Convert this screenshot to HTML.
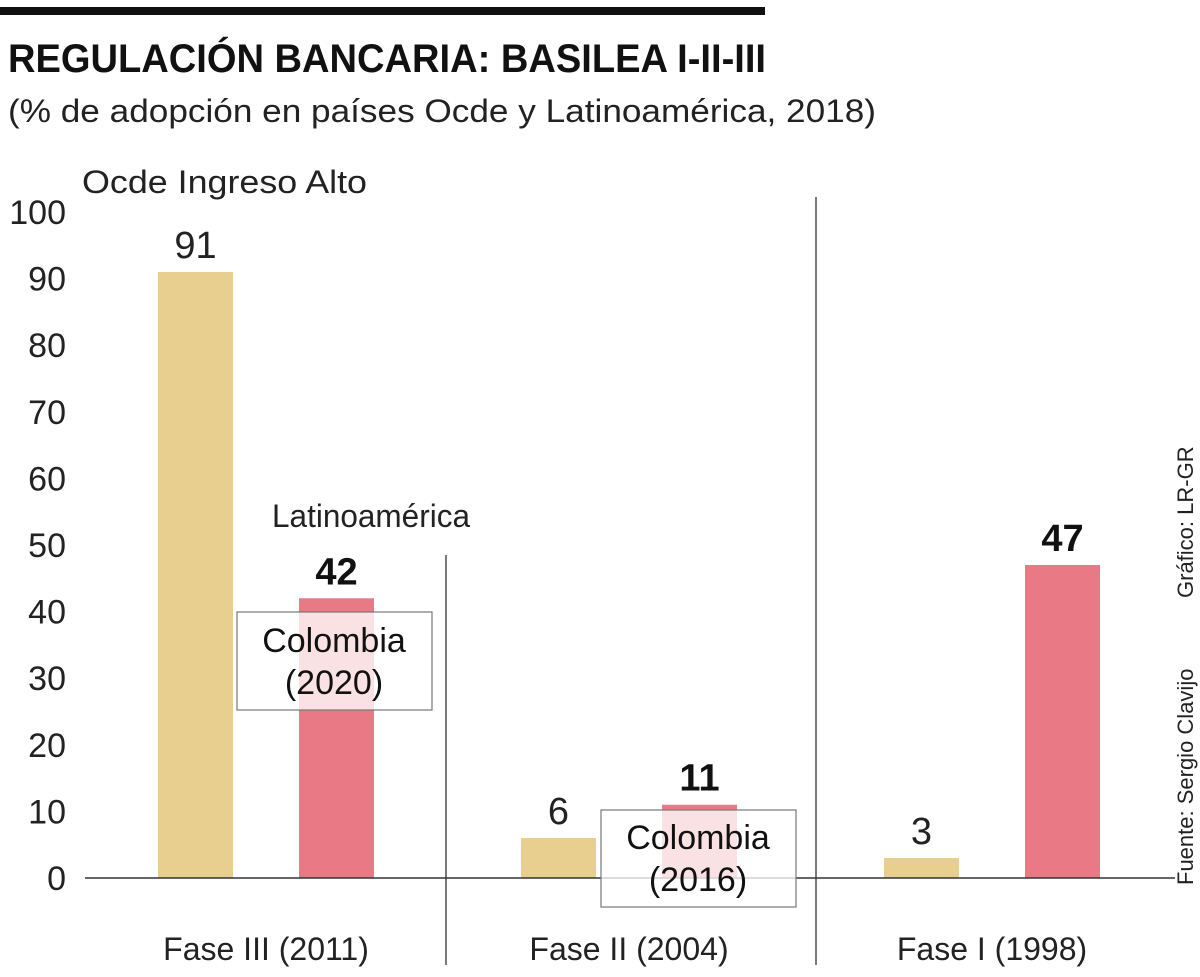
<!DOCTYPE html>
<html><head><meta charset="utf-8"><style>
body{margin:0;width:1200px;height:972px;background:#fff;overflow:hidden;font-family:"Liberation Sans",sans-serif;}
svg text{font-family:"Liberation Sans",sans-serif;}
</style></head><body>
<svg id="chart" width="1200" height="972">
<rect x="0" y="7" width="765" height="8" fill="#111"/>
<text x="8" y="72" font-size="40" font-weight="bold" fill="#111" textLength="758" lengthAdjust="spacingAndGlyphs">REGULACIÓN BANCARIA: BASILEA I-II-III</text>
<text x="8" y="122" font-size="32" fill="#222" textLength="868" lengthAdjust="spacingAndGlyphs">(% de adopción en países Ocde y Latinoamérica, 2018)</text>
<text x="82" y="193" font-size="32" fill="#222" textLength="285" lengthAdjust="spacingAndGlyphs">Ocde Ingreso Alto</text>
<text x="272" y="527" font-size="32" fill="#222" textLength="198" lengthAdjust="spacingAndGlyphs">Latinoamérica</text>
<g id="axis"></g>
<g id="bars"></g>
<line x1="446" y1="555" x2="446" y2="965" stroke="#333" stroke-width="1.3"/>
<line x1="816" y1="197" x2="816" y2="965" stroke="#333" stroke-width="1.3"/>
<line x1="85" y1="878" x2="1175" y2="878" stroke="#333" stroke-width="1.5"/>
<g>
<rect x="237" y="612" width="195" height="98" fill="#fff" fill-opacity="0.78" stroke="#777" stroke-width="1.2"/>
<text x="334" y="652" font-size="34" text-anchor="middle" fill="#111">Colombia</text>
<text x="334" y="694" font-size="34" text-anchor="middle" fill="#111">(2020)</text>
</g>
<g>
<rect x="601" y="810" width="195" height="97" fill="#fff" fill-opacity="0.78" stroke="#777" stroke-width="1.2"/>
<text x="698" y="849" font-size="34" text-anchor="middle" fill="#111">Colombia</text>
<text x="698" y="891" font-size="34" text-anchor="middle" fill="#111">(2016)</text>
</g>
<text transform="translate(1193,885) rotate(-90)" font-size="22" fill="#222">Fuente: Sergio Clavijo</text>
<text transform="translate(1193,598) rotate(-90)" font-size="22" fill="#222">Gráfico: LR-GR</text>
</svg>
<script>
const categories=["Fase III (2011)","Fase II (2004)","Fase I (1998)"];
const ocdeValues=[91,6,3];
const latamValues=[42,11,47];
const yTicks=[0,10,20,30,40,50,60,70,80,90,100];
const ns="http://www.w3.org/2000/svg";
const y=v=>878-v*6.66;
const groupX=i=>158+i*363;
const barW=75;
function mk(tag,attrs,parent,text){const e=document.createElementNS(ns,tag);for(const k in attrs)e.setAttribute(k,attrs[k]);if(text!==undefined)e.textContent=text;parent.appendChild(e);return e;}
const axis=document.getElementById('axis');
yTicks.forEach(t=>{const e=mk('text',{x:66,y:y(t)+12,'font-size':34,'text-anchor':'end',fill:'#222'},axis,String(t));

});
const bars=document.getElementById('bars');
categories.forEach((c,i)=>{
const x0=groupX(i);
const b1=mk('rect',{x:x0,y:y(ocdeValues[i]),width:barW,height:878-y(ocdeValues[i]),fill:'#e8cf8f'},bars);


const l1=mk('text',{x:x0+barW/2,y:y(ocdeValues[i])-14,'font-size':38,'text-anchor':'middle',fill:'#222'},bars,String(ocdeValues[i]));


const x1=x0+141;
const b2=mk('rect',{x:x1,y:y(latamValues[i]),width:barW,height:878-y(latamValues[i]),fill:'#e87985'},bars);


const l2=mk('text',{x:x1+barW/2,y:y(latamValues[i])-14,'font-size':38,'font-weight':'bold','text-anchor':'middle',fill:'#111'},bars,String(latamValues[i]));


const cl=mk('text',{x:x0+(141+barW)/2,y:960,'font-size':32,'text-anchor':'middle',fill:'#222'},bars,c);


});
</script>
</body></html>
